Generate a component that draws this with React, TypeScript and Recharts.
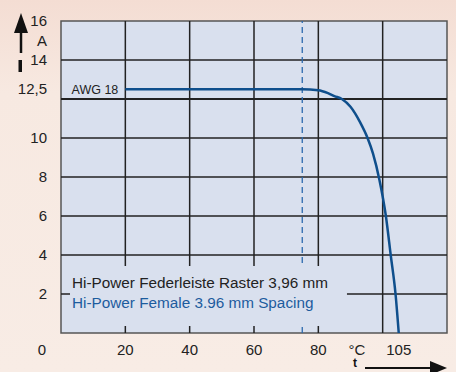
import React from "react";
import {
  ComposedChart,
  Line,
  XAxis,
  YAxis,
  ReferenceLine,
  ReferenceArea,
  ReferenceDot,
} from "recharts";

// Derating curve, temperature (°C) vs. current (A).
const tempC = [20, 40, 60, 75, 80, 83, 85, 87.3, 90, 93, 95.3, 97, 99, 101, 102.5, 104, 105];
const currentA = [12.5, 12.5, 12.5, 12.5, 12.45, 12.3, 12.15, 12, 11.6, 10.8, 10, 9.2, 7.85, 6, 4, 2, 0];

const gridX = [20, 40, 60, 80, 100];
const gridY = [2, 4, 6, 8, 10, 14];
const ratedLine = 12;

const xTicks = [0, 20, 40, 60, 75, 80, 92, 105];
const xTickLabels = ["0", "20", "40", "60", "75", "80", "°C", "105"];
const yTicks = [2, 4, 6, 8, 10, 12.5, 14, 15, 16];
const yTickLabels = ["2", "4", "6", "8", "10", "12,5", "14", "A", "16"];

const titleDe = "Hi-Power Federleiste Raster 3,96 mm";
const titleEn = "Hi-Power Female 3.96 mm Spacing";
const wireLabel = "AWG 18";

const data = tempC.map((t, i) => ({ t, a: currentA[i] }));

const FONT = "'Liberation Sans', Arial, sans-serif";
const INK = "#222";
const BLUE = "#0f4f8c";

const XTick = (props: any) => {
  const { x, y, payload } = props;
  const i = xTicks.indexOf(payload.value);
  const dx = payload.value === 0 ? -19 : 0;
  return (
    <text x={x + dx} y={y + 22} textAnchor="middle" fontSize={15} fontFamily={FONT} fill={INK}>
      {xTickLabels[i]}
    </text>
  );
};

const YTick = (props: any) => {
  const { x, y, payload } = props;
  const i = yTicks.indexOf(payload.value);
  return (
    <text x={x - 14} y={y + 5} textAnchor="end" fontSize={15} fontFamily={FONT} fill={INK}>
      {yTickLabels[i]}
    </text>
  );
};

const BoxText = (props: any) => {
  const vb = props.viewBox || {};
  return (
    <g fontFamily={FONT} fontSize={15.3}>
      <text x={vb.x + 2} y={vb.y + 22} fill={INK}>{titleDe}</text>
      <text x={vb.x + 2} y={vb.y + 42} fill="#1d5c9e">{titleEn}</text>
    </g>
  );
};

export default function App() {
  return (
    <div
      style={{
        position: "fixed",
        left: 0,
        top: 0,
        width: 456,
        height: 372,
        overflow: "hidden",
        background: "linear-gradient(#f4ddd3, #f7e9e1 25%, #f8ece5)",
      }}
    >
      <ComposedChart
        width={456}
        height={372}
        data={data}
        margin={{ top: 21, right: 9, bottom: 0, left: 0 }}
      >
        <XAxis
          type="number"
          dataKey="t"
          domain={[0, 120]}
          ticks={xTicks}
          tick={<XTick />}
          tickSize={0}
          tickMargin={0}
          axisLine={false}
          tickLine={false}
          height={39}
          allowDataOverflow
        />
        <YAxis
          type="number"
          domain={[0, 16]}
          ticks={yTicks}
          tick={<YTick />}
          tickSize={0}
          tickMargin={0}
          axisLine={false}
          tickLine={false}
          width={61}
          interval={0}
        />
        <ReferenceArea
          x1={0}
          x2={120}
          y1={0}
          y2={16}
          fill="#d9e0ee"
          fillOpacity={1}
          stroke="#555"
          strokeWidth={1.5}
          zIndex={-200}
        />
        {gridX.map((v) => (
          <ReferenceLine key={"x" + v} x={v} stroke={INK} strokeWidth={1.5} zIndex={-150} />
        ))}
        {gridY.map((v) => (
          <ReferenceLine key={"y" + v} y={v} stroke={INK} strokeWidth={1.5} zIndex={-150} />
        ))}
        <ReferenceLine y={ratedLine} stroke={INK} strokeWidth={2.2} zIndex={-150} />
        <ReferenceLine x={75} stroke="#2c6aad" strokeWidth={1.3} strokeDasharray="6 4" zIndex={-150} />
        <ReferenceArea
          x1={2.8}
          x2={88.9}
          y1={0.36}
          y2={3.44}
          fill="#d9e0ee"
          fillOpacity={1}
          stroke="none"
          zIndex={-100}
          label={<BoxText />}
        />
        <Line
          type="monotone"
          dataKey="a"
          stroke={BLUE}
          strokeWidth={2.5}
          dot={false}
          isAnimationActive={false}
        />
        <ReferenceDot
          x={20}
          y={12.5}
          r={0}
          fill="none"
          stroke="none"
          label={{ value: wireLabel, position: "left", offset: 7, fontSize: 12.5, fontFamily: FONT, fill: INK }}
        />
      </ComposedChart>
      <svg
        width={456}
        height={372}
        style={{ position: "absolute", left: 0, top: 0, pointerEvents: "none" }}
      >
        <polygon points="21,13 14,33 28,33" fill="#111" />
        <line x1={21} y1={32} x2={21} y2={53} stroke="#111" strokeWidth={2.5} />
        <rect x={18.5} y={60} width={3.5} height={12} fill="#111" />
        <text x={355} y={367} textAnchor="middle" fontSize={12} fontFamily={FONT} fontWeight="bold" fill="#111">
          t
        </text>
        <line x1={365} y1={368} x2={432} y2={368} stroke="#111" strokeWidth={2} />
        <polygon points="447,368 430,361 430,375" fill="#111" />
      </svg>
    </div>
  );
}
